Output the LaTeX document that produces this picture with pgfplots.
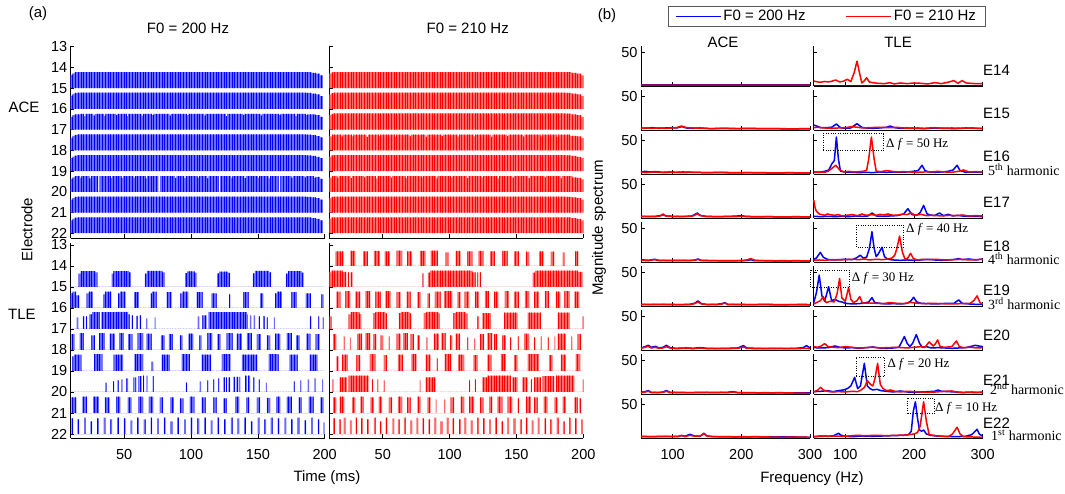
\documentclass[border=0pt]{standalone}
\usepackage{fontspec}
\setmainfont{Liberation Sans}
\newfontfamily\seriffont{Liberation Serif}
\usepackage{pgfplots}
\pgfplotsset{compat=1.18}
\usetikzlibrary{patterns.meta}

\pgfplotsset{
  frame/.style={scale only axis, axis x line*=bottom, axis y line*=left,
    tick align=inside, major tick length=3.5pt,
    tick style={black, line width=0.6pt},
    axis line style={black, line width=0.7pt},
    ticklabel style={font=\fontsize{14.5}{16}\selectfont},
    xticklabel style={yshift=-8pt},
    /pgf/number format/assume math mode=true, anchor=south west},
  egram/.style={frame, width=254pt, xmin=10, xmax=200, y dir=reverse,
    xtick={50,100,150,200}, ytick={13,...,22}},
  spec/.style={frame, width=169pt, height=40.3pt, xmin=54, xmax=300,
    ymin=0, ymax=60, xtick={100,200,300}, ytick={50},
    xticklabels={}, yticklabels={}, clip=false},
  pb/.style={const plot, draw=none, fill=blue!58!white,
    postaction={pattern={Lines[angle=90,distance=2.7pt,line width=0.85pt]}, pattern color=blue}},
  pr/.style={const plot, draw=none, fill=red!58!white,
    postaction={pattern={Lines[angle=90,distance=2.7pt,line width=0.85pt]}, pattern color=red}},
  sb/.style={blue, line width=1.5pt, line join=round},
  sr/.style={red, line width=1.5pt, line join=round},
}
\tikzset{dbox/.style={black, line width=0.9pt, dash pattern=on 1pt off 1.4pt}}

\begin{document}
\begin{tikzpicture}
\path[use as bounding box] (0,0) rectangle (1065pt,494pt);

% ---------------- (a) electrodograms ----------------
% ACE, F0 = 200 Hz
\begin{axis}[egram, at={(70.7pt,256pt)}, height=192.3pt, ymin=12.95, ymax=22.23, xticklabels={}]
\addplot[pb] coordinates {(10,15)(10,14.36)(11.5,14.28)(13,14.23)(15,14.22)(186,14.23)(190,14.26)(193.5,14.3)(196.5,14.38)(198.7,15)} -- cycle;
\addplot[pb] coordinates {(10,16)(10,15.36)(11.5,15.28)(13,15.23)(15,15.22)(186,15.23)(190,15.26)(193.5,15.3)(196.5,15.38)(198.7,16)} -- cycle;
\addplot[pb] coordinates {(10,17)(10,16.38)(11.5,16.3)(13,16.26)(17,16.24)(20,16.35)(21,16.24)(27,16.32)(28,16.24)(35,16.34)(36,16.24)(44,16.3)(45,16.24)(52,16.35)(53,16.24)(63,16.32)(64,16.24)(71,16.3)(72,16.24)(84,16.33)(85,16.24)(97,16.3)(98,16.24)(110,16.32)(111,16.24)(126,16.35)(127,16.24)(139,16.3)(140,16.24)(152,16.33)(153,16.24)(166,16.3)(167,16.24)(178,16.35)(179,16.24)(186,16.3)(187,16.26)(193,16.3)(196.5,16.38)(198.7,17)} -- cycle;
\addplot[pb] coordinates {(10,18)(10,17.4)(11.5,17.3)(13,17.25)(15,17.23)(186,17.24)(190,17.27)(193.5,17.31)(196.5,17.38)(198.7,18)} -- cycle;
\addplot[pb] coordinates {(10,19)(10,18.38)(11.5,18.3)(13,18.25)(15,18.23)(186,18.24)(190,18.27)(193.5,18.31)(196.5,18.38)(198.7,19)} -- cycle;
\addplot[pb] coordinates {(10,20)(10,19.38)(11.5,19.3)(13,19.25)(15,19.24)(17,19.33)(18,19.24)(24,19.35)(25,19.24)(30.5,20)(31.7,19.24)(40,19.33)(41,19.24)(48,19.34)(49,19.24)(57,19.32)(58,19.24)(66,19.35)(67,19.24)(75.6,20)(76.8,19.24)(88,19.33)(89,19.24)(95,19.34)(96,19.24)(105,19.32)(106,19.24)(112,19.35)(113,19.24)(120.6,20)(121.8,19.24)(130,19.33)(131,19.24)(140,19.34)(141,19.24)(150,19.32)(151,19.24)(158,19.35)(159,19.24)(165.6,20)(166.8,19.24)(175,19.33)(176,19.24)(185,19.3)(186,19.25)(192,19.34)(193,19.28)(196.5,19.38)(198.7,20)} -- cycle;
\addplot[pb] coordinates {(10,21)(10,20.38)(11.5,20.3)(13,20.25)(15,20.23)(186,20.24)(190,20.27)(193.5,20.31)(196.5,20.38)(198.7,21)} -- cycle;
\addplot[pb] coordinates {(10,22)(10,21.38)(11.5,21.3)(13,21.25)(15,21.23)(186,21.24)(190,21.27)(193.5,21.31)(196.5,21.38)(198.7,22)} -- cycle;
\end{axis}

% ACE, F0 = 210 Hz
\begin{axis}[egram, at={(329.3pt,256pt)}, height=192.3pt, ymin=12.95, ymax=22.23, xticklabels={}, yticklabels={}]
\addplot[pr] coordinates {(10,15)(10,14.3)(11.5,14.24)(13,14.22)(187,14.23)(191,14.26)(195,14.3)(198.5,14.38)(200,15)} -- cycle;
\addplot[pr] coordinates {(10,16)(10,15.3)(11.5,15.24)(13,15.22)(187,15.23)(191,15.26)(195,15.3)(198.5,15.38)(200,16)} -- cycle;
\addplot[pr] coordinates {(10,17)(10,16.3)(11.5,16.24)(13,16.22)(187,16.23)(191,16.26)(195,16.3)(198.5,16.38)(200,17)} -- cycle;
\addplot[pr] coordinates {(10,18)(10,17.32)(12,17.24)(19,17.34)(20,17.24)(27,17.32)(28,17.24)(38,17.35)(39,17.24)(47,17.31)(48,17.24)(59,17.34)(60,17.24)(70,17.32)(71,17.24)(82,17.35)(83,17.24)(94,17.31)(95,17.24)(106,17.34)(107,17.24)(118,17.32)(119,17.24)(131,17.35)(132,17.24)(143,17.31)(144,17.24)(155,17.34)(156,17.24)(168,17.32)(169,17.24)(180,17.35)(181,17.24)(190,17.3)(195,17.33)(198.5,17.4)(200,18)} -- cycle;
\addplot[pr] coordinates {(10,19)(10,18.3)(11.5,18.24)(13,18.23)(187,18.24)(191,18.27)(195,18.31)(198.5,18.38)(200,19)} -- cycle;
\addplot[pr] coordinates {(10,20)(10,19.32)(12,19.24)(16,19.33)(17,19.24)(26,19.34)(27,19.24)(36,19.31)(37,19.24)(45,19.35)(46,19.24)(56,19.32)(57,19.24)(67,19.34)(68,19.24)(79,19.31)(80,19.24)(90,19.35)(91,19.24)(101,19.32)(102,19.24)(113,19.34)(114,19.24)(124,19.31)(125,19.24)(136,19.35)(137,19.24)(147,19.32)(148,19.24)(159,19.34)(160,19.24)(171,19.31)(172,19.24)(183,19.35)(184,19.24)(192,19.3)(195,19.33)(198.5,19.4)(200,20)} -- cycle;
\addplot[pr] coordinates {(10,21)(10,20.3)(11.5,20.24)(13,20.23)(187,20.24)(191,20.27)(195,20.31)(198.5,20.38)(200,21)} -- cycle;
\addplot[pr] coordinates {(10,22)(10,21.3)(11.5,21.24)(13,21.23)(187,21.24)(191,21.27)(195,21.31)(198.5,21.38)(200,22)} -- cycle;
\end{axis}

% TLE, F0 = 200 Hz
\begin{axis}[egram, at={(70.7pt,56pt)}, height=194.7pt, ymin=12.92, ymax=22.19]
\addplot[pb] coordinates {(10,15)(16,14.36)(17.5,14.25)(28.5,14.3)(30,15)(40.7,14.36)(42,14.24)(53.5,14.3)(55,15)(65.5,14.36)(67,14.23)(78.5,14.3)(80,15)(95.5,14.34)(97,14.26)(102.7,14.32)(104.2,15)(119.5,14.35)(121,14.27)(127.7,14.33)(129.2,15)(146.2,14.35)(147.7,14.23)(158.5,14.3)(160,15)(171,14.36)(172.5,14.24)(182.7,14.32)(184.2,15)(200,15)} -- cycle;
\addplot[pb] coordinates {(10,16)(10,15.3)(11.5,15.22)(14,15.4)(16.5,16)(22,15.3)(23.5,15.22)(26.5,16)(34.2,15.35)(35.5,15.22)(40.5,16)(45.5,15.3)(47,15.22)(51,16)(57.5,15.25)(61,16)(69.7,15.3)(71,15.22)(74.2,16)(81.7,15.25)(85.5,16)(92,15.3)(93.5,15.22)(98,16)(104.2,15.25)(108.7,16)(115.2,15.3)(119.2,16)(128.5,15.35)(129.5,16)(139.2,15.25)(143,16)(151.7,15.3)(154.2,16)(163,15.3)(164.5,15.22)(168,16)(175,15.25)(179.2,16)(186,15.3)(189.7,16)(197.5,15.35)(199.2,16)(200,16)} -- cycle;
\addplot[pb] coordinates {(10,17)(14.5,16.45)(15.5,17)(19.2,16.4)(20.3,17)(21.3,16.4)(22.3,17)(24.2,16.3)(26,16.2)(31.7,17)(33,16.2)(44,16.18)(53,16.3)(54,17)(55.5,16.35)(56.5,17)(59,16.38)(60,17)(61.5,16.35)(62.7,17)(66.5,16.5)(67.3,17)(72.7,16.45)(73.5,17)(105.2,16.4)(106,17)(108.5,16.35)(111.7,17)(113,16.2)(141.7,16.3)(142.5,17)(144,16.35)(145,17)(147,16.35)(148,17)(150.5,16.4)(151.5,17)(154,16.38)(155,17)(156.5,16.45)(157.3,17)(162,16.45)(162.8,17)(189,16.4)(190,17)(195.2,16.4)(196,17)(198.5,16.45)(199.3,17)(200,17)} -- cycle;
\addplot[pb] coordinates {(10,18)(10.5,17.25)(13,18)(16.7,17.2)(19.7,18)(25.5,17.3)(28,18)(31.2,17.2)(35.5,18)(39.2,17.22)(43,18)(46.2,17.2)(49.7,18)(53,17.25)(56.2,18)(60,17.2)(64.2,18)(66.7,17.22)(70.5,18)(77.5,17.3)(80,18)(83.5,17.25)(86.2,18)(91.7,17.3)(93.7,18)(98,17.22)(101.7,18)(106.2,17.3)(108,18)(112.2,17.2)(116,18)(119.7,17.25)(122.2,18)(126.7,17.2)(131.2,18)(134.2,17.22)(138,18)(141.7,17.2)(145.5,18)(149.2,17.25)(152.2,18)(156.7,17.3)(159.2,18)(163,17.22)(166.7,18)(171.7,17.2)(175.5,18)(178.7,17.3)(181,18)(186.2,17.22)(189.2,18)(193.2,17.25)(196.2,18)(200,18)} -- cycle;
\addplot[pb] coordinates {(10,19)(11.2,18.3)(12.5,18.22)(18,19)(27.5,18.2)(33.7,19)(42.2,18.22)(49.2,19)(57.7,18.2)(64.2,19)(70.5,18.55)(71.7,19)(78,18.22)(84.2,19)(93,18.2)(99.2,19)(108,18.22)(115,19)(123,18.2)(129.7,19)(138,18.22)(149.7,19)(158,18.2)(165.5,19)(173.5,18.22)(179.7,19)(188.7,18.22)(194.7,19)(200,19)} -- cycle;
\addplot[pb] coordinates {(10,20)(36.2,19.55)(37,20)(41.7,19.5)(42.5,20)(45,19.45)(45.8,20)(48,19.4)(48.8,20)(51.7,19.35)(53,20)(56.7,19.3)(57.8,20)(58.3,19.3)(59.2,20)(60.5,19.25)(61.5,20)(62,19.25)(63,20)(64.2,19.22)(65,20)(66.7,19.22)(67.5,20)(71.2,19.25)(72,20)(96.2,19.55)(97,20)(106.7,19.5)(107.5,20)(112.2,19.45)(113,20)(116.7,19.4)(117.5,20)(120.5,19.35)(121.3,20)(124.2,19.3)(125.3,20)(126,19.3)(127,20)(128,19.3)(129.2,20)(131.7,19.28)(133,20)(134,19.28)(135,20)(135.7,19.28)(136.7,20)(140.5,19.22)(142,20)(142.8,19.22)(144.2,20)(146.7,19.3)(147.5,20)(150.5,19.4)(151.3,20)(156,19.55)(156.8,20)(176.7,19.5)(177.5,20)(181.7,19.45)(182.5,20)(187.5,19.4)(188.3,20)(192.2,19.35)(193,20)(198,19.4)(198.8,20)(200,20)} -- cycle;
\addplot[pb] coordinates {(10,21)(10.5,20.25)(14.2,21)(18.7,20.22)(22.2,21)(26.7,20.22)(31,21)(35.5,20.25)(39.2,21)(44.2,20.22)(47.2,21)(52.5,20.25)(55.5,21)(60.5,20.22)(64.2,21)(68.5,20.22)(71.7,21)(76.7,20.25)(79.2,21)(84.7,20.25)(87.2,21)(91.7,20.3)(94.2,21)(99.2,20.22)(102.5,21)(108,20.25)(111,21)(116.7,20.25)(119.2,21)(124.2,20.3)(126.7,21)(133,20.22)(136.2,21)(141.2,20.25)(143.7,21)(149.2,20.25)(151.7,21)(156.7,20.28)(159.2,21)(163.7,20.22)(166.7,21)(171.7,20.22)(175.5,21)(180.5,20.25)(183,21)(188,20.22)(191.7,21)(196.7,20.25)(199.2,21)(200,21)} -- cycle;
\addplot[pb] coordinates {(10,22)(10.5,21.25)(11.8,22)(15,21.3)(16.3,22)(20,21.22)(21.3,22)(24.8,21.4)(26.1,22)(29.7,21.25)(31,22)(34.7,21.22)(36,22)(39.7,21.3)(41,22)(44.7,21.22)(46,22)(49.7,21.25)(51,22)(54.7,21.35)(56,22)(59.7,21.22)(61,22)(64.7,21.3)(66,22)(69.7,21.22)(71,22)(74.7,21.25)(76,22)(79.7,21.22)(81,22)(84.7,21.4)(86,22)(89.7,21.22)(91,22)(94.8,21.3)(96.1,22)(99.8,21.22)(101.1,22)(104.8,21.25)(106.1,22)(109.8,21.22)(111.1,22)(114.8,21.35)(116.1,22)(119.8,21.22)(121.1,22)(124.8,21.3)(126.1,22)(129.8,21.22)(131.1,22)(134.8,21.25)(136.1,22)(139.8,21.22)(141.1,22)(144.8,21.4)(146.1,22)(149.8,21.22)(151.1,22)(154.8,21.3)(156.1,22)(159.8,21.22)(161.1,22)(164.8,21.25)(166.1,22)(169.8,21.22)(171.1,22)(174.8,21.3)(176.1,22)(179.8,21.22)(181.1,22)(184.8,21.35)(186.1,22)(189.8,21.22)(191.1,22)(194.8,21.3)(196.1,22)(199,21.45)(200,22)} -- cycle;
\end{axis}

% TLE, F0 = 210 Hz
\begin{axis}[egram, at={(329.3pt,56pt)}, height=194.7pt, ymin=12.92, ymax=22.19, yticklabels={}]
\addplot[pr] coordinates {(10,14)(14.5,13.3)(20.8,14)(25.8,13.28)(29.5,14)(35.3,13.3)(38.8,14)(43.3,13.28)(47.8,14)(51.3,13.3)(55.3,14)(60.3,13.27)(64.5,14)(68.3,13.3)(72,14)(77.8,13.28)(82,14)(85.8,13.27)(91.3,14)(97,13.35)(99,14)(104.5,13.28)(108.3,14)(113.3,13.3)(117,14)(121.5,13.28)(125.3,14)(130.3,13.3)(133.8,14)(139.5,13.28)(143.3,14)(148.3,13.3)(152,14)(157,13.32)(159.5,14)(167,13.3)(170.3,14)(175.8,13.32)(178.3,14)(184.5,13.35)(185.8,14)(193.8,13.3)(196.3,14)(200,14)} -- cycle;
\addplot[pr] coordinates {(10,15)(10,14.3)(11.5,14.22)(20,14.28)(22.8,15)(23.8,14.3)(24.8,15)(26,14.3)(27.5,15)(79.5,14.35)(80.3,15)(83.8,14.32)(85.5,14.22)(117,14.3)(119.5,15)(120.8,14.3)(121.6,15)(122.5,14.3)(123.3,15)(162,14.32)(164,14.22)(196,14.28)(199.5,15)(200,15)} -- cycle;
\addplot[pr] coordinates {(10,16)(15.3,15.22)(18.3,16)(22,15.2)(25.8,16)(29.5,15.22)(33.3,16)(37,15.2)(40.8,16)(44.5,15.22)(48.3,16)(52,15.2)(55.8,16)(60.3,15.25)(63.3,16)(67.8,15.22)(70.8,16)(75.8,15.25)(78.3,16)(83.3,15.3)(85.3,16)(89,15.22)(93.3,16)(95.8,15.2)(102,16)(105.8,15.25)(108.3,16)(111.3,15.22)(114.5,16)(118.8,15.22)(122,16)(126.3,15.2)(129.5,16)(133.3,15.22)(136.5,16)(141.3,15.2)(144.5,16)(148.3,15.22)(152,16)(156.3,15.2)(159.5,16)(163.3,15.22)(167,16)(171.3,15.2)(174.5,16)(179.5,15.22)(182.8,16)(185.8,15.2)(189.5,16)(193.3,15.22)(197,16)(200,16)} -- cycle;
\addplot[pr] coordinates {(10,17)(10.3,16.4)(12,17)(24.5,16.3)(26,16.2)(32.5,16.28)(33.8,17)(42.8,16.25)(44.5,16.18)(52,16.26)(53.3,17)(62,16.25)(63.5,16.18)(70,16.26)(71.3,17)(80.8,16.25)(82.5,16.18)(91.5,16.26)(92.8,17)(102.8,16.25)(104.5,16.18)(112,16.26)(113.3,17)(120.8,16.4)(122,17)(124.5,16.25)(130.8,17)(140.8,16.22)(150.8,17)(158.3,16.22)(168.3,17)(180.8,16.22)(189.5,17)(199.3,16.4)(200,17)} -- cycle;
\addplot[pr] coordinates {(10,18)(12.8,17.25)(15.3,18)(20.8,17.35)(21.6,18)(25.3,17.4)(26.1,18)(30.8,17.22)(34.5,18)(37,17.2)(40.8,18)(42.8,17.25)(45.3,18)(48.3,17.3)(50.3,18)(54.5,17.35)(55.3,18)(60.3,17.22)(63.3,18)(65.3,17.2)(68.8,18)(70.8,17.25)(73.3,18)(75.8,17.3)(77.8,18)(82.8,17.4)(83.6,18)(88.3,17.22)(92,18)(93.8,17.2)(97,18)(100.3,17.3)(102,18)(104.5,17.22)(107.8,18)(113.3,17.4)(114.1,18)(118.3,17.45)(119.1,18)(122.8,17.25)(125.8,18)(128.3,17.2)(132,18)(133.3,17.25)(135.8,18)(139.5,17.3)(142,18)(145.3,17.4)(146.1,18)(150.8,17.35)(151.6,18)(155.8,17.22)(159.5,18)(163.3,17.4)(164.1,18)(168.3,17.35)(169.1,18)(173.3,17.4)(174.1,18)(178.3,17.35)(179.1,18)(180.8,17.22)(187,18)(190.8,17.35)(191.6,18)(195.8,17.25)(198.3,18)(200,18)} -- cycle;
\addplot[pr] coordinates {(10,19)(15.3,18.3)(17,19)(19.5,18.22)(23.8,19)(30.3,18.25)(33.3,19)(40.3,18.2)(44.5,19)(50.8,18.25)(53.3,19)(61.3,18.22)(65.3,19)(71.3,18.2)(75.3,19)(82,18.22)(85.8,19)(90.3,18.4)(91.1,19)(96.3,18.2)(101.3,19)(106.3,18.22)(110.8,19)(117.8,18.25)(120.8,19)(128.3,18.22)(131.3,19)(138.3,18.2)(142,19)(148.3,18.25)(150.8,19)(158.3,18.2)(167,19)(174.5,18.25)(177,19)(183.3,18.22)(187,19)(194.5,18.2)(197.8,19)(200,19)} -- cycle;
\addplot[pr] coordinates {(10,20)(12.5,19.4)(13.3,20)(17.8,19.3)(23.3,20)(24.5,19.22)(39.5,20)(42,19.4)(42.8,20)(45.8,19.4)(46.6,20)(50.8,19.45)(51.6,20)(77.5,19.45)(78.3,20)(82,19.3)(89.5,20)(114.5,19.45)(115.3,20)(118.8,19.4)(119.6,20)(124.5,19.3)(128.3,19.22)(145.8,20)(147,19.3)(150.8,20)(154.5,19.3)(158.3,20)(160.8,19.4)(161.6,20)(163.3,19.3)(168.3,20)(169.5,19.25)(178.3,20)(179.5,19.22)(193.3,20)(199.5,19.4)(200,20)} -- cycle;
\addplot[pr] coordinates {(10,21)(12.8,20.25)(15.3,21)(17.8,20.22)(21.3,21)(27,20.25)(29.5,21)(33.3,20.22)(35.8,21)(40.8,20.25)(43.3,21)(47,20.22)(49.5,21)(54.5,20.25)(57,21)(61.3,20.22)(64.5,21)(68.3,20.25)(70.8,21)(75.8,20.22)(78.3,21)(83.3,20.25)(85.8,21)(89.5,20.35)(90.3,21)(95.8,20.35)(96.6,21)(100.8,20.25)(103.3,21)(108.3,20.22)(110.8,21)(114.5,20.22)(118.3,21)(122.8,20.25)(125.3,21)(129.5,20.22)(132,21)(135.8,20.22)(139.5,21)(143.3,20.22)(147,21)(150.8,20.3)(152,21)(157,20.22)(160.8,21)(163.3,20.25)(165.8,21)(170.3,20.22)(173.3,21)(178.3,20.25)(180.8,21)(184.5,20.22)(187,21)(193.3,20.25)(195.8,21)(197,20.3)(198.3,21)(200,21)} -- cycle;
\addplot[pr] coordinates {(10,22)(12.8,21.25)(14.1,22)(17.1,21.3)(18.4,22)(20.8,21.22)(22.1,22)(25.3,21.35)(26.6,22)(29.6,21.22)(30.9,22)(33.8,21.25)(35.1,22)(38.3,21.3)(39.6,22)(43.3,21.22)(44.6,22)(47.8,21.4)(49.1,22)(52.1,21.22)(53.4,22)(57.1,21.25)(58.4,22)(61.3,21.3)(62.6,22)(65.8,21.22)(67.1,22)(70.8,21.35)(72.1,22)(75.1,21.22)(76.4,22)(79.6,21.25)(80.9,22)(84.1,21.3)(85.4,22)(88.8,21.22)(90.1,22)(93.3,21.4)(94.6,22)(97.8,21.22)(99.1,22)(102.1,21.25)(103.4,22)(107.1,21.3)(108.4,22)(111.3,21.22)(112.6,22)(115.8,21.35)(117.1,22)(120.8,21.22)(122.1,22)(125.1,21.25)(126.4,22)(129.6,21.3)(130.9,22)(134.1,21.22)(135.4,22)(138.8,21.4)(140.1,22)(143.3,21.22)(144.6,22)(147.8,21.25)(149.1,22)(152.6,21.3)(153.9,22)(157.1,21.22)(158.4,22)(161.6,21.35)(162.9,22)(166.1,21.22)(167.4,22)(170.8,21.25)(172.1,22)(175.3,21.3)(176.6,22)(180.3,21.22)(181.6,22)(184.8,21.4)(186.1,22)(189.6,21.22)(190.9,22)(193.8,21.25)(195.1,22)(198.3,21.3)(199.6,22)(200,22)} -- cycle;
\end{axis}

% ---------------- (b) magnitude spectra ----------------
% E14
\begin{axis}[spec, at={(641pt,408pt)}, yticklabels={50},
  legend style={at={(0.158,1.985)}, anchor=north west, draw=black!65, line width=0.8pt,
    inner xsep=7pt, inner ysep=2pt, font=\fontsize{15}{17}\selectfont, legend columns=2,
    /tikz/every even column/.append style={column sep=38pt}, legend cell align=left},
  legend image code/.code={\draw[#1] (0pt,0pt) -- (45pt,0pt);}]
\addlegendimage{blue, line width=1.3pt}\addlegendentry{F0 = 200 Hz}
\addlegendimage{red, line width=1.3pt}\addlegendentry{F0 = 210 Hz}
\addplot[sb, forget plot] coordinates {(54,1.5)(300,1.5)};
\addplot[sr, forget plot, opacity=0.55] coordinates {(54,1.5)(300,1.5)};
\end{axis}
\begin{axis}[spec, at={(813.7pt,408pt)}]
\addplot[sb] coordinates {(54,1)(300,1)};
\addplot[sr] coordinates {(54,7.4)(60,6)(64,5.5)(70,6.7)(75,6)(80,7)(86,8.9)(92,6)(97,7)(103,10)(108,6.5)(113,20)(117,37)(121,18)(124,4.5)(128,8)(131,12.3)(135,6)(140,5)(147,4)(157,3.5)(165,5)(171,3)(180,4.5)(190,3.5)(200,4.5)(210,4)(220,3)(230,5)(240,3.5)(249,5.5)(258,8)(264,4)(270,8)(276,4.5)(282,4)(290,3.5)(300,3.5)};
\end{axis}
% E15
\begin{axis}[spec, at={(641pt,364pt)}, yticklabels={50}]
\addplot[sb] coordinates {(54,3)(62,2.5)(70,3.5)(80,2.5)(90,3)(100,3.5)(106,3)(113,5)(120,3)(130,2.5)(140,3)(155,2)(170,2.5)(190,2)(210,2.5)(230,2)(250,2)(270,1.5)(290,2)(300,2)};
\addplot[sr] coordinates {(54,2.5)(62,3)(70,2.5)(80,3)(90,2.5)(100,3)(106,3.5)(113,6)(120,3.5)(130,3)(140,2.5)(160,2)(180,2.5)(200,2)(220,2)(240,2)(260,2)(280,1.5)(300,1.5)};
\end{axis}
\begin{axis}[spec, at={(813.7pt,364pt)}]
\addplot[sb] coordinates {(54,7.4)(58,6)(64,3.5)(72,3.5)(80,4)(87,8.9)(93,3.5)(100,2.5)(108,3)(117,9.4)(124,4)(130,3)(140,2.5)(150,3)(160,4)(165.5,6)(171,3.5)(180,2.5)(190,3)(200,2.5)(215,2)(230,3)(245,2.5)(260,2)(275,3)(290,2.5)(300,2.5)};
\addplot[sr] coordinates {(54,3.5)(60,4)(70,3)(80,2.5)(90,3)(100,3.5)(110,5)(118,4)(125,3)(135,3.5)(150,4)(165,3.5)(175,4)(185,3)(195,2.5)(205,3)(215,2.5)(230,3.5)(240,2.5)(255,3)(270,2.5)(285,3)(300,2)};
\end{axis}
% E16
\begin{axis}[spec, at={(641pt,320pt)}, yticklabels={50}]
\addplot[sb] coordinates {(54,3)(60,4)(66,3)(75,3.5)(85,2.5)(95,3)(105,2.5)(115,3)(130,2.5)(150,2)(170,2.5)(190,2)(210,2)(230,2)(250,1.5)(270,2)(290,1.5)(300,1.5)};
\addplot[sr] coordinates {(54,2.5)(62,2)(70,3)(80,2.5)(90,2)(100,2.5)(115,2)(130,2.5)(150,2)(170,2)(190,1.5)(210,2)(230,1.5)(250,1.5)(270,1.5)(300,1.5)};
\end{axis}
\begin{axis}[spec, at={(813.7pt,320pt)}]
\addplot[sb] coordinates {(54,3)(62,2.5)(70,4)(76,6)(80.6,15.5)(84,20)(87,55)(90,22)(93,4)(100,3)(110,2.5)(120,2)(130,2.5)(140,2)(150,3)(160,2.5)(170,3)(180,2.5)(190,3)(200,4)(206,5)(211.7,13)(216,5)(222,3)(230,2.5)(240,3)(250,4)(257,6)(262.7,13)(267,5)(275,2.5)(285,3)(300,2.5)};
\addplot[sr] coordinates {(54,2.5)(62,3)(70,2.5)(75,4)(80,8)(86,13)(92,6)(98,3)(105,4)(112,3)(120,3.5)(126,4)(131,5.5)(134,22)(138,55)(142,22)(145,4)(152,3.5)(160,5)(168,4)(175,3)(185,3.5)(195,3)(205,2.5)(215,3)(225,3)(235,4)(245,3)(255,2.5)(265,4)(272,6)(280,3)(290,3.5)(300,3)};
\draw[dbox] (axis cs:68,35) rectangle (axis cs:156,60);
\end{axis}
% E17
\begin{axis}[spec, at={(641pt,276pt)}, yticklabels={50}]
\addplot[sb] coordinates {(54,2.5)(65,2)(75,2.5)(82,3.5)(86,5)(90,3)(100,2.5)(115,2)(128,3)(132,5)(136,7.4)(140,4)(148,2.5)(165,2)(185,2.5)(195,3)(200,3.5)(205,2.5)(220,2)(240,2)(260,1.5)(280,2)(300,1.5)};
\addplot[sr] coordinates {(54,2)(65,2.5)(75,2)(82,3)(86,6)(90,3)(100,2)(115,2.5)(128,2.5)(132,4)(136,6.5)(140,3.5)(150,2)(170,2)(190,2)(200,2.5)(220,1.5)(240,2)(260,1.5)(280,1.5)(300,1.5)};
\end{axis}
\begin{axis}[spec, at={(813.7pt,276pt)}]
\addplot[sb] coordinates {(54,2.5)(65,2)(75,2.5)(85,2)(95,2.5)(105,2)(115,3)(125,2.5)(133,3)(139,7.4)(145,3)(155,2.5)(165,3)(175,3.5)(185,6)(191,13.8)(197,5)(204,4)(209,8)(214,18.8)(219,6)(224,4.5)(230,3.5)(237,7.4)(243,3.5)(250,5.5)(256,3)(263,4)(270,3)(280,2.5)(290,2.5)(300,2)};
\addplot[sr] coordinates {(54,27)(56,15)(58,10)(62,6)(66,5)(70,4)(74,6)(78,5)(84,4)(90,5)(96,3)(102,4)(110,5)(118,3.5)(124,6)(130,4)(138,5)(146,4)(150,5.5)(156,4.5)(162,6)(170,4)(178,4.5)(184,6)(190,5)(196,7.4)(202,4)(210,5.5)(218,3.5)(228,4)(240,3)(252,4)(262,3.5)(270,4.5)(280,3)(290,3.5)(300,3)};
\end{axis}
% E18
\begin{axis}[spec, at={(641pt,232pt)}, yticklabels={50}]
\addplot[sb] coordinates {(54,4)(58,3)(65,2.5)(74,4)(80,2.5)(95,2)(110,2.5)(125,2)(133,3)(137,4.5)(141,2.5)(160,2)(180,2)(200,2)(210,2.5)(214,3.5)(218,2)(240,2)(260,1.5)(280,2)(300,1.5)};
\addplot[sr] coordinates {(54,2.5)(65,2)(74,3.5)(80,2)(95,2.5)(110,2)(125,2.5)(133,2.5)(137,4)(141,2)(160,2)(180,1.5)(200,2)(208,3)(214,5)(220,2.5)(240,1.5)(260,2)(280,1.5)(300,1.5)};
\end{axis}
\begin{axis}[spec, at={(813.7pt,232pt)}]
\addplot[sb] coordinates {(54,4)(58,6)(63.6,14.4)(68,7)(74,4)(80,3)(90,3.5)(100,4)(110,3.5)(116,6)(121.8,10)(126,6)(131,7)(135,20)(138.8,45)(142,20)(145,8)(148,12)(153.4,22)(157,8)(162,4)(170,3)(180,2.5)(190,3)(200,2.5)(210,3)(220,4)(230,3)(240,2.5)(250,3)(260,4)(265,5)(270,3.5)(280,4.5)(290,3)(300,4.5)};
\addplot[sr] coordinates {(54,2.5)(62,3)(70,2.5)(80,3.5)(90,3)(100,3.5)(110,4)(120,3.5)(128,4.5)(135,3)(145,4)(155,3.5)(162,4.5)(168,6)(172,10)(175,20)(179,38.7)(183,15)(187,4)(191,6)(195,13)(199,5)(205,3)(212,4)(220,3.5)(230,4)(240,3.5)(250,3)(260,3.5)(270,4)(280,3)(290,3.5)(300,4)};
\draw[dbox] (axis cs:116,22) rectangle (axis cs:185,55);
\end{axis}
% E19
\begin{axis}[spec, at={(641pt,188pt)}, yticklabels={50}]
\addplot[sb] coordinates {(54,2.5)(65,2)(80,2.5)(95,2)(110,2)(125,2.5)(132,4)(137,7.6)(142,3.5)(150,2)(165,2.5)(172,3.5)(176,5)(180,2.5)(195,2)(215,2)(235,2.5)(255,2)(275,2)(290,2.5)(300,2)};
\addplot[sr] coordinates {(54,2)(65,2.5)(80,2)(95,2.5)(110,2)(125,2)(132,3.5)(137,6)(142,3)(150,2.5)(165,2)(172,3)(176,4.5)(180,2)(195,2.5)(215,2)(235,2)(255,1.5)(275,2)(300,1.5)};
\end{axis}
\begin{axis}[spec, at={(813.7pt,188pt)}]
\addplot[sb] coordinates {(54,5)(58,20)(62,46)(66,15)(70,7)(75.7,28.8)(80,8)(85,10)(90,7)(95,6)(100,4)(110,3)(120,3.5)(128,4.5)(134,6)(138.8,12.4)(143,5)(150,4)(160,3)(170,3.5)(180,3)(190,4)(195,7)(199.5,13)(204,6)(210,4)(220,3.5)(230,3)(240,3.5)(250,4)(258,4)(265,9)(270,4)(280,3)(290,2.5)(300,2.5)};
\addplot[sr] coordinates {(54,3)(58,5)(64,8)(68,14)(72,5)(78,7)(84,6)(88,18)(91.7,41)(95,12)(100,7)(104.8,27.8)(108,10)(112,5)(117,8)(121,14)(125,4)(135,4.5)(145,4)(155,3.5)(165,5)(175,4)(185,3.5)(195,5.5)(205,4)(215,3.5)(225,4)(240,3.5)(255,3)(270,3.5)(282,4)(287,8)(291.8,15)(296,5)(300,3)};
\draw[dbox] (axis cs:49.5,27.7) rectangle (axis cs:106.3,53.3);
\end{axis}
% E20
\begin{axis}[spec, at={(641pt,144pt)}, yticklabels={50}]
\addplot[sb] coordinates {(54,3)(60,5)(64.5,7)(69,4)(75,5.5)(80,3)(86,4)(91,7)(96,3.5)(105,2.5)(120,3)(130,2.5)(140,3.5)(150,2.5)(165,2)(180,2.5)(195,3)(203,6.5)(208,3)(220,2.5)(235,2)(250,2.5)(265,2)(280,2.5)(290,3.5)(295,6.5)(300,3)};
\addplot[sr] coordinates {(54,2.5)(60,4)(64.5,5.5)(69,3)(75,4)(80,2.5)(86,3)(91,5)(96,3)(105,2)(120,2.5)(130,2)(140,3)(150,2)(165,2.5)(180,2)(195,2.5)(203,4.5)(208,2.5)(220,2)(235,2.5)(250,2)(265,2.5)(280,2)(295,2.5)(300,2)};
\end{axis}
\begin{axis}[spec, at={(813.7pt,144pt)}]
\addplot[sb] coordinates {(54,3.5)(65,3)(75,3.5)(85,6)(92,4)(100,3)(110,3.5)(120,2.5)(130,3.5)(140,4.5)(150,3)(160,2.5)(170,3)(178,4)(182,12)(186,20)(190,10)(194,5)(198,10)(203.4,23)(208,10)(212,4)(218,5)(225,3)(235,3.5)(245,3)(255,2.5)(265,3)(275,3.5)(282,5)(289,7)(294,6)(300,5)};
\addplot[sr] coordinates {(54,5)(60,4)(65,6)(70,9.4)(75,5)(82,4)(90,3.5)(100,5)(110,4)(120,3)(130,3.5)(140,4)(150,3)(160,3.5)(175,4)(190,3)(200,4)(210,5)(216,4)(222,12)(228,6)(231,9)(234.5,15)(238,5)(245,4)(255,5)(261.7,13.4)(266,5)(272,3.5)(282,4)(292,3)(300,3.5)};
\end{axis}
% E21
\begin{axis}[spec, at={(641pt,100pt)}, yticklabels={50}]
\addplot[sb] coordinates {(54,2.5)(60,3.5)(64.5,5)(69,2.5)(80,2)(86,3)(91,5)(96,2.5)(110,2)(125,2)(140,2.5)(160,2)(180,2.5)(188,3.5)(195,2)(215,2)(235,1.5)(255,2)(275,1.5)(300,1.5)};
\addplot[sr] coordinates {(54,2)(60,3)(64.5,4)(69,2)(80,2.5)(86,2.5)(91,4)(96,2)(110,2.5)(125,2)(140,2)(160,2.5)(180,2)(188,3)(195,2)(215,1.5)(235,2)(255,1.5)(275,1.5)(300,1)};
\end{axis}
\begin{axis}[spec, at={(813.7pt,100pt)}]
\addplot[sb] coordinates {(54,3.5)(64,4)(74,5)(82,3.5)(90,5)(97,6)(103,8)(108,12)(113.6,24.8)(118,8)(122,12)(127.7,45.6)(132,12)(136,8)(140,6)(146,7)(152,5)(160,4)(170,3)(180,4.5)(190,3)(200,2.5)(210,3)(220,3.5)(230,4)(235,6)(240,4)(250,3.5)(260,3)(270,2)(280,2.5)(290,2)(300,3)};
\addplot[sr] coordinates {(54,3)(60,6)(64,10)(68,6)(74,4)(80,3)(90,3.5)(100,3)(110,4)(118,3.5)(123,6)(128,10)(132,20)(137,14)(140,12)(143,22)(147,45.6)(151,14)(155,8)(160,5)(166,6)(172,4)(180,3)(190,4)(200,3.5)(210,3)(220,2.5)(232,3)(245,4)(255,4.5)(262,3)(272,2.5)(285,3)(300,2)};
\draw[dbox] (axis cs:116,26.5) rectangle (axis cs:156.8,55.1);
\end{axis}
% E22
\begin{axis}[spec, at={(641pt,56pt)}, yticklabels={50}, xticklabels={100,200,300}]
\addplot[sb] coordinates {(54,2)(70,2)(85,2.5)(100,2)(108,2.5)(113,3.5)(118,2.5)(125,5.5)(132,3)(140,2.5)(145.6,7)(150,3)(160,2)(180,2)(200,1.5)(220,2)(240,1.5)(260,1.5)(280,1.5)(300,1)};
\addplot[sr] coordinates {(54,2.5)(70,2)(85,2)(100,2.5)(108,2)(113,4)(118,2)(125,4)(132,2.5)(140,3)(145.6,6.5)(150,2.5)(160,2)(180,1.5)(200,2)(220,1.5)(240,1.5)(260,1)(280,1.5)(300,1)};
\end{axis}
\begin{axis}[spec, at={(813.7pt,56pt)}, xticklabels={100,200,300}]
\addplot[sb] coordinates {(54,2)(65,3)(75,2.5)(82,3)(86,5)(90.2,7)(94,4)(100,2.5)(110,2)(125,3)(140,2.5)(155,3)(170,3.5)(185,4)(192,5)(196,10)(199,40)(202,54)(205,30)(208,12)(211,10)(214,12)(218,6)(224,4)(232,3)(245,2.5)(260,2)(275,2.5)(284,5)(288,9)(291.8,13)(295,6)(300,2.5)};
\addplot[sr] coordinates {(54,2)(65,2.5)(80,3)(95,2.5)(105,3)(115,4)(130,3.5)(145,4)(160,3.5)(175,4)(190,4.5)(200,6)(205,8)(209,18)(214,54)(218,25)(222,5)(228,4)(240,2.5)(250,2)(256,6)(262.7,16)(267,6)(272,2)(285,1.5)(300,1)};
\draw[dbox] (axis cs:190,36.3) rectangle (axis cs:229.7,59.4);
\end{axis}

% ---------------- labels ----------------
\begin{scope}[every node/.style={font=\fontsize{15}{17}\selectfont, inner sep=0pt}]
\node at (38pt,480pt) {(a)};
\node at (607pt,478pt) {(b)};
\node at (188pt,466pt) {F0 = 200 Hz};
\node at (467.7pt,466pt) {F0 = 210 Hz};
\node at (24pt,387pt) {ACE};
\node at (22pt,180pt) {TLE};
\node[rotate=90] at (27pt,264.5pt) {Electrode};
\node at (327pt,16pt) {Time (ms)};
\node[rotate=90] at (599pt,266pt) {Magnitude spectrum};
\node at (812pt,15pt) {Frequency (Hz)};
\node at (723pt,451.3pt) {ACE};
\node at (898pt,451.3pt) {TLE};
\node[anchor=west] at (983pt,424pt) {E14};
\node[anchor=west] at (983pt,380.7pt) {E15};
\node[anchor=west] at (983pt,337.3pt) {E16};
\node[anchor=west] at (983pt,291.7pt) {E17};
\node[anchor=west] at (983pt,248pt) {E18};
\node[anchor=west] at (983pt,204pt) {E19};
\node[anchor=west] at (983pt,159pt) {E20};
\node[anchor=west] at (983pt,114pt) {E21};
\node[anchor=west] at (983pt,70.7pt) {E22};
\end{scope}
\begin{scope}[every node/.style={font=\seriffont\fontsize{14}{16}\selectfont, inner sep=0pt, anchor=west}]
\node at (988pt,324pt) {5\textsuperscript{th} harmonic};
\node at (988pt,235pt) {4\textsuperscript{th} harmonic};
\node at (988pt,190pt) {3\textsuperscript{rd} harmonic};
\node at (990pt,105pt) {2\textsuperscript{nd} harmonic};
\node at (991pt,59pt) {1\textsuperscript{st} harmonic};
\end{scope}
\begin{scope}[every node/.style={font=\seriffont\fontsize{13}{15}\selectfont, inner sep=0pt, anchor=west}]
\node at (886pt,350pt) {Δ \textit{f} = 50 Hz};
\node at (906pt,264.7pt) {Δ \textit{f} = 40 Hz};
\node at (851.7pt,215.7pt) {Δ \textit{f} = 30 Hz};
\node at (887.3pt,130pt) {Δ \textit{f} = 20 Hz};
\node at (935pt,85.7pt) {Δ \textit{f} = 10 Hz};
\end{scope}
\end{tikzpicture}
\end{document}
